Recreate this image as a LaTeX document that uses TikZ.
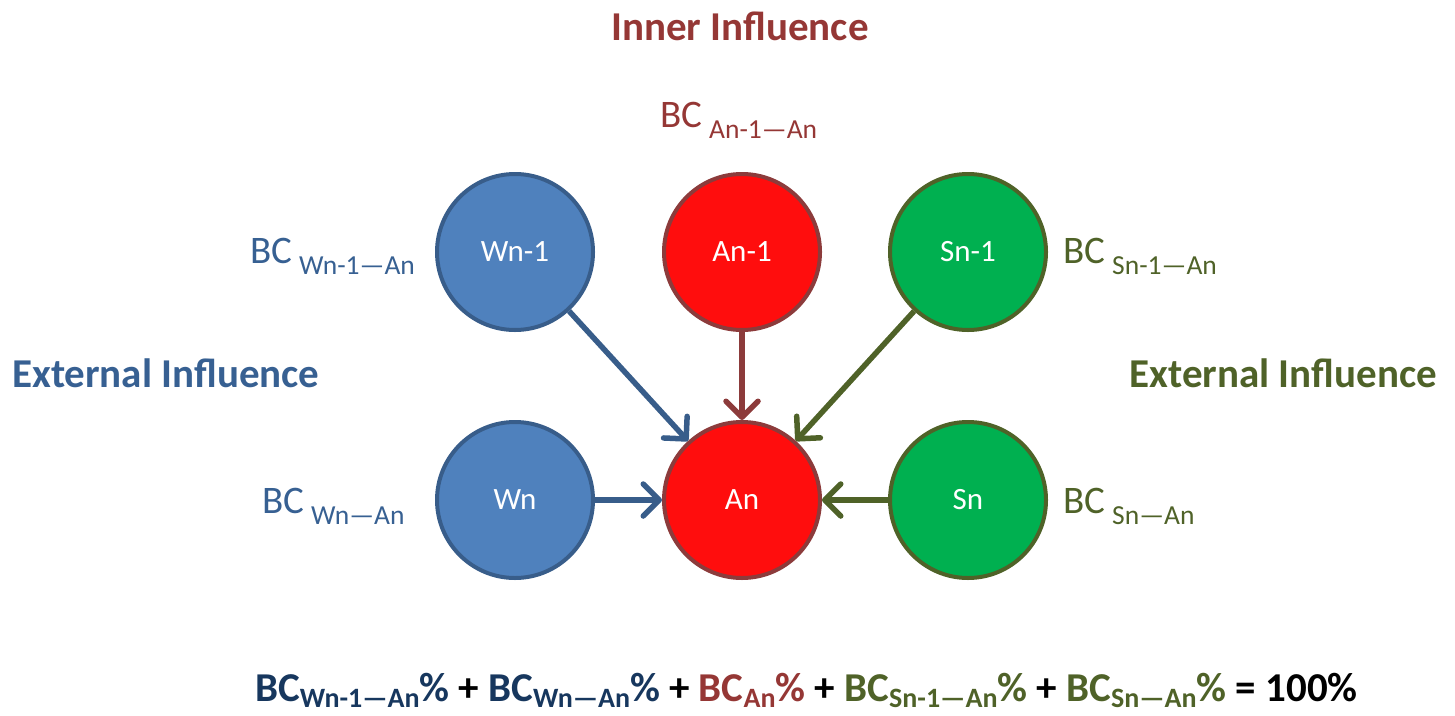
\documentclass[tikz,border=0pt]{standalone}
\usepackage{fontspec}
\setmainfont{Carlito}
\usetikzlibrary{arrows.meta}
\definecolor{bfill}{HTML}{4F81BD}
\definecolor{bline}{HTML}{385D8A}
\definecolor{rfill}{HTML}{FF0D0D}
\definecolor{rline}{HTML}{8C3B3B}
\definecolor{gfill}{HTML}{00B050}
\definecolor{gline}{HTML}{4F6228}
\definecolor{btext}{HTML}{376092}
\definecolor{rtext}{HTML}{953735}
\definecolor{gtext}{HTML}{4F6228}
\definecolor{navy}{HTML}{17375E}
\newcommand\bcsub[1]{BC\hspace{7pt}\raisebox{-11pt}{\fontsize{27.5}{30}\selectfont #1}}
\newcommand\eqsub[1]{\raisebox{-6pt}{\fontsize{28}{30}\selectfont #1}}
\begin{document}
\begin{tikzpicture}[x=1pt,y=-1pt,
  circ/.style={circle,minimum size=156pt,line width=4pt,inner sep=0pt,text=white,font=\fontsize{31}{34}\selectfont},
  bcirc/.style={circ,fill=bfill,draw=bline},
  rcirc/.style={circ,fill=rfill,draw=rline},
  gcirc/.style={circ,fill=gfill,draw=gline},
  conn/.style={line width=5.5pt,-{Straight Barb[length=16pt,width=32pt,line cap=round,line join=round]}},
  bclabel/.style={anchor=base west,inner sep=0pt,font=\fontsize{39}{42}\selectfont},
  title/.style={inner sep=0pt,font=\fontsize{41}{44}\selectfont\bfseries}
]
\useasboundingbox (0,0) rectangle (1455,715);

\node[bcirc] (wn1) at (515,252) {Wn-1};
\node[rcirc] (an1) at (742,252) {An-1};
\node[gcirc] (sn1) at (968,252) {Sn-1};
\node[bcirc] (wn) at (515,500) {Wn};
\node[rcirc] (an) at (742,500) {An};
\node[gcirc] (sn) at (968,500) {Sn};

\draw[conn,draw=bline] (wn1) -- (an);
\draw[conn,draw=rline] (an1) -- (an);
\draw[conn,draw=gline] (sn1) -- (an);
\draw[conn,draw=bline] (wn) -- (an);
\draw[conn,draw=gline] (sn) -- (an);

\node[title,text=rtext,anchor=base] (inner) at (740,40) {Inner Influence};
\node[title,text=btext,anchor=base west] (extl) at (12,387) {External Influence};
\node[title,text=gtext,anchor=base east] (extr) at (1437,387) {External Influence};

\node[bclabel,text=rtext] (lan1) at (660,127) {\bcsub{An-1—An}};
\node[bclabel,text=btext] (lwn1) at (250,263) {\bcsub{Wn-1—An}};
\node[bclabel,text=gtext] (lsn1) at (1063,263) {\bcsub{Sn-1—An}};
\node[bclabel,text=btext] (lwn) at (262,513) {\bcsub{Wn—An}};
\node[bclabel,text=gtext] (lsn) at (1063,513) {\bcsub{Sn—An}};

\node[title,anchor=base west] (eq) at (255,701) {%
\textcolor{navy}{BC\eqsub{Wn-1—An}\%} + \textcolor{navy}{BC\eqsub{Wn—An}\%} + \textcolor{rtext}{BC\eqsub{An}\%} + \textcolor{gtext}{BC\eqsub{Sn-1—An}\%} + \textcolor{gtext}{BC\eqsub{Sn—An}\%} = 100\%};
\end{tikzpicture}
\end{document}
